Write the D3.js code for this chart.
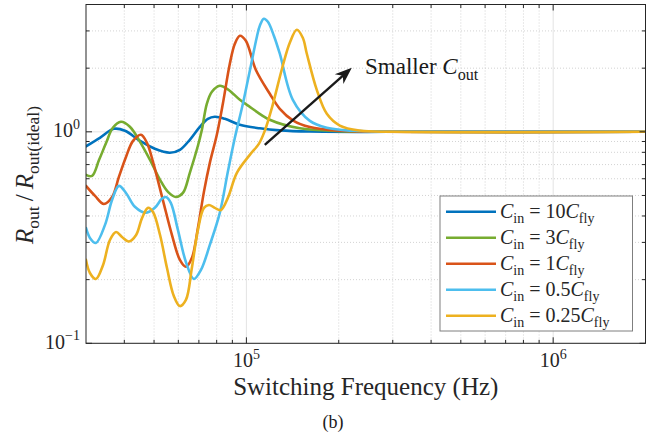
<!DOCTYPE html>
<html><head><meta charset="utf-8">
<script src="https://cdn.jsdelivr.net/npm/d3@7"></script>
<style>
html,body{margin:0;padding:0;background:#fff;}
svg{display:block;font-family:"Liberation Serif","Times New Roman",serif;}
text{white-space:pre;}
</style></head><body>
<svg id="chart" width="657" height="434"></svg>
<script>
// ---------------- data (frequency in kHz, normalized resistance) ----------------
const seriesLabels = ["10", "3", "1", "0.5", "0.25"];
const seriesColors = ["#0072BD", "#77AC30", "#D95319", "#4DBEEE", "#EDB120"];
const xMajorTicks = [100, 1000];
const xMajorExp = ["5", "6"];
const xMinorTicks = [40, 50, 60, 70, 80, 90, 200, 300, 400, 500, 600, 700, 800, 900];
const yMajorTicks = [0.1, 1];
const yMajorExp = ["\u22121", "0"];
const yMinorTicks = [0.2, 0.3, 0.4, 0.5, 0.6, 0.7, 0.8, 0.9, 2, 3, 4];

const cin10 = [[30.0,0.854],[33.3,0.937],[37.0,1.033],[40.2,1.011],[45.0,0.906],[50.3,0.831],[56.3,0.796],[60.7,0.822],[65.4,0.917],[70.5,1.056],[74.9,1.152],[78.9,1.178],[85.1,1.152],[95.2,1.079],[110.6,1.039],[128.5,1.016],[161.0,1.003],[316.1,1.0],[2000,1.0]];
const cin3 = [[30.0,0.626],[31.4,0.619],[33.1,0.737],[34.9,0.887],[36.7,1.045],[39.0,1.115],[41.7,1.056],[45.0,0.897],[48.5,0.737],[52.3,0.593],[55.5,0.520],[58.9,0.492],[62.1,0.514],[65.4,0.640],[69.5,0.859],[71.6,1.022],[74.3,1.357],[77.2,1.546],[81.9,1.651],[87.0,1.589],[95.2,1.417],[102.6,1.313],[119.2,1.140],[149.3,1.039],[201.6,1.008],[316.1,1.0],[2000,1.0]];
const cin1 = [[30.0,0.555],[32.1,0.498],[34.3,0.456],[36.5,0.492],[38.4,0.612],[40.5,0.761],[42.7,0.906],[45.3,0.968],[47.4,0.887],[49.6,0.721],[53.4,0.477],[57.2,0.325],[60.7,0.248],[63.5,0.230],[66.4,0.253],[69.5,0.351],[72.7,0.520],[76.0,0.713],[80.1,0.968],[83.8,1.357],[88.3,2.098],[91.7,2.609],[95.2,2.848],[99.6,2.696],[107.3,1.965],[119.2,1.513],[128.5,1.285],[141.7,1.134],[161.0,1.053],[201.6,1.011],[272.1,1.0],[2000,1.0]];
const cin05 = [[30.0,0.351],[30.9,0.315],[32.3,0.298],[34.6,0.363],[36.5,0.477],[38.4,0.555],[40.5,0.514],[43.3,0.442],[47.0,0.414],[50.3,0.437],[53.0,0.482],[54.7,0.492],[56.7,0.461],[59.8,0.344],[63.5,0.2425],[67.4,0.2014],[71.1,0.2222],[76.0,0.292],[81.9,0.414],[87.0,0.647],[91.7,0.937],[97.4,1.357],[102.6,1.944],[108.2,2.817],[110.6,3.175],[114.0,3.426],[117.5,3.316],[122.9,2.848],[128.5,2.340],[141.7,1.417],[161.0,1.127],[182.9,1.045],[222.2,1.011],[316.1,1.0],[2000,1.0]];
const cin025 = [[30.0,0.248],[30.9,0.215],[32.3,0.2014],[34.1,0.2347],[35.9,0.308],[37.6,0.336],[39.3,0.318],[41.4,0.303],[43.7,0.325],[45.7,0.392],[47.8,0.437],[49.6,0.418],[52.3,0.325],[55.1,0.227],[58.0,0.1674],[60.7,0.150],[63.5,0.1603],[66.4,0.227],[69.5,0.344],[72.7,0.437],[75.5,0.451],[78.9,0.437],[82.6,0.427],[87.0,0.487],[93.1,0.640],[102.6,0.778],[109.8,0.877],[114.8,1.011],[121.1,1.299],[131.4,2.053],[138.5,2.638],[146.0,3.040],[152.7,2.786],[157.4,2.340],[169.6,1.580],[182.9,1.217],[201.6,1.071],[234.2,1.014],[299.9,1.0],[2000,1.0]];
const seriesData = [cin10, cin3, cin1, cin05, cin025];
// arrow annotation (kHz, value)
const arrowStart = [114.8, 0.868];
const arrowEnd = [220.6, 2.009];

// ---------------- layout ----------------
const svg = d3.select("#chart");
const L = 86, R = 645.5, T = 4.5, B = 343.3;
const x = d3.scaleLog().domain([30, 2000]).range([L, R]);
const y = d3.scaleLog().domain([0.1, 4]).range([B, T]);
const axisColor = "#262626";

function addMath(textSel, parts, fs) {
  let shift = 0;
  parts.forEach(p => {
    const ts = textSel.append("tspan").text(p.t);
    let target = 0;
    if (p.sub) target = fs * 0.25;
    if (p.sup) target = -fs * 0.42;
    ts.attr("dy", target - shift);
    shift = target;
    if (p.sub || p.sup) ts.attr("font-size", fs * 0.7);
    if (p.i) ts.attr("font-style", "italic");
  });
}

// grid
const g = svg.append("g");
g.selectAll(".gxm").data(xMinorTicks).join("line")
  .attr("x1", d => x(d)).attr("x2", d => x(d)).attr("y1", T).attr("y2", B)
  .attr("stroke", "#c8c8c8").attr("stroke-width", 0.8).attr("stroke-dasharray", "1,2");
g.selectAll(".gym").data(yMinorTicks).join("line")
  .attr("y1", d => y(d)).attr("y2", d => y(d)).attr("x1", L).attr("x2", R)
  .attr("stroke", "#c8c8c8").attr("stroke-width", 0.8).attr("stroke-dasharray", "1,2");
g.selectAll(".gxM").data(xMajorTicks).join("line")
  .attr("x1", d => x(d)).attr("x2", d => x(d)).attr("y1", T).attr("y2", B)
  .attr("stroke", "#e3e3e3").attr("stroke-width", 1);
g.selectAll(".gyM").data(yMajorTicks).join("line")
  .attr("y1", d => y(d)).attr("y2", d => y(d)).attr("x1", L).attr("x2", R)
  .attr("stroke", "#e3e3e3").attr("stroke-width", 1);

// curves
svg.append("clipPath").attr("id", "clip").append("rect")
  .attr("x", L).attr("y", T).attr("width", R - L).attr("height", B - T);
const line = d3.line().x(d => x(d[0])).y(d => y(d[1])).curve(d3.curveCatmullRom.alpha(0.5));
svg.append("g").attr("clip-path", "url(#clip)").selectAll("path").data(seriesData).join("path")
  .attr("d", line).attr("fill", "none")
  .attr("stroke", (d, i) => seriesColors[i]).attr("stroke-width", 2.6)
  .attr("stroke-linejoin", "round").attr("stroke-linecap", "round");

// axes box & ticks
const ax = svg.append("g").attr("stroke", axisColor).attr("stroke-width", 1);
ax.append("rect").attr("x", L).attr("y", T).attr("width", R - L).attr("height", B - T).attr("fill", "none");
const majL = 6, minL = 3.5;
[[xMajorTicks, majL], [xMinorTicks, minL]].forEach(([ticks, len]) => {
  ax.selectAll(null).data(ticks).join("line").attr("x1", d => x(d)).attr("x2", d => x(d)).attr("y1", B).attr("y2", B - len);
  ax.selectAll(null).data(ticks).join("line").attr("x1", d => x(d)).attr("x2", d => x(d)).attr("y1", T).attr("y2", T + len);
});
[[yMajorTicks, majL], [yMinorTicks, minL]].forEach(([ticks, len]) => {
  ax.selectAll(null).data(ticks).join("line").attr("y1", d => y(d)).attr("y2", d => y(d)).attr("x1", L).attr("x2", L + len);
  ax.selectAll(null).data(ticks).join("line").attr("y1", d => y(d)).attr("y2", d => y(d)).attr("x1", R).attr("x2", R - len);
});

// tick labels
const tfs = 20;
xMajorTicks.forEach((t, i) => {
  const tx = svg.append("text").attr("x", x(t)).attr("y", B + 24).attr("text-anchor", "middle")
    .attr("font-size", tfs).attr("fill", "#262626");
  addMath(tx, [{t: "10"}, {t: xMajorExp[i], sup: true}], tfs);
});
yMajorTicks.forEach((t, i) => {
  const tx = svg.append("text").attr("x", L - 6).attr("y", y(t) + 5.5).attr("text-anchor", "end")
    .attr("font-size", tfs).attr("fill", "#262626");
  addMath(tx, [{t: "10"}, {t: yMajorExp[i], sup: true}], tfs);
});

// axis labels
const xl = svg.append("text").attr("x", (L + R) / 2).attr("y", 395).attr("text-anchor", "middle")
  .attr("font-size", 25).attr("fill", "#262626");
addMath(xl, [{t: "Switching Frequency (Hz)"}], 25);
const yl = svg.append("text").attr("transform", "translate(33,175) rotate(-90)").attr("text-anchor", "middle")
  .attr("font-size", 25).attr("fill", "#262626");
addMath(yl, [{t: "R", i: true}, {t: "out", sub: true}, {t: "\u2009/\u2009"}, {t: "R", i: true}, {t: "out(ideal)", sub: true}], 25);

svg.append("text").attr("x", 333).attr("y", 428).attr("text-anchor", "middle")
  .attr("font-size", 18).attr("fill", "#1a1a1a").text("(b)");

// arrow annotation
const ax0 = x(arrowStart[0]), ay0 = y(arrowStart[1]), ax1 = x(arrowEnd[0]), ay1 = y(arrowEnd[1]);
const len = Math.hypot(ax1 - ax0, ay1 - ay0), ux = (ax1 - ax0) / len, uy = (ay1 - ay0) / len;
const hl = 17, hw = 6.5;
const bx = ax1 - hl * ux, by = ay1 - hl * uy;
svg.append("line").attr("x1", ax0).attr("y1", ay0).attr("x2", ax1 - 8 * ux).attr("y2", ay1 - 8 * uy)
  .attr("stroke", "#1a1a1a").attr("stroke-width", 2.4);
svg.append("path").attr("d", `M${ax1},${ay1} L${bx - uy * hw},${by + ux * hw} L${ax1 - 12 * ux},${ay1 - 12 * uy} L${bx + uy * hw},${by - ux * hw} Z`)
  .attr("fill", "#1a1a1a");
const st = svg.append("text").attr("x", 365).attr("y", 74).attr("font-size", 23).attr("fill", "#1a1a1a");
addMath(st, [{t: "Smaller "}, {t: "C", i: true}, {t: "out", sub: true}], 23);

// legend
const lg = svg.append("g");
lg.append("rect").attr("x", 440).attr("y", 196).attr("width", 192.5).attr("height", 135)
  .attr("fill", "#fff").attr("stroke", "#7f7f7f").attr("stroke-width", 1);
const lfs = 20;
seriesLabels.forEach((lab, i) => {
  const yy = 211.7 + i * 26;
  lg.append("line").attr("x1", 446).attr("x2", 496).attr("y1", yy).attr("y2", yy)
    .attr("stroke", seriesColors[i]).attr("stroke-width", 2.6);
  const tx = lg.append("text").attr("x", 500).attr("y", yy + 6.6).attr("font-size", lfs).attr("fill", "#262626");
  addMath(tx, [{t: "C", i: true}, {t: "in", sub: true}, {t: " = " + lab}, {t: "C", i: true}, {t: "fly", sub: true}], lfs);
});
</script>
</body></html>
